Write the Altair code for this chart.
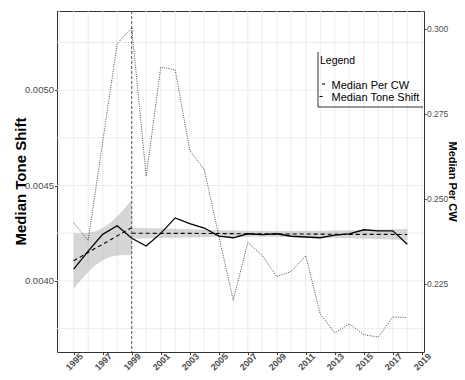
import altair as alt
import pandas as pd

# ---- data ----
years = list(range(1995, 2019))
tone_shift = [0.004062, 0.004156, 0.004244, 0.004289, 0.004223, 0.004183,
              0.004249, 0.004330, 0.004300, 0.004277, 0.004235, 0.004226,
              0.004247, 0.004242, 0.004247, 0.004234, 0.004230, 0.004226,
              0.004240, 0.004246, 0.004268, 0.004262, 0.004262, 0.004192]
per_cw = [0.2429, 0.2377, 0.2667, 0.2956, 0.3003, 0.2566, 0.2887, 0.2879,
          0.2642, 0.2586, 0.2392, 0.2201, 0.2371, 0.2333, 0.2271, 0.2286,
          0.2332, 0.2160, 0.2105, 0.2132, 0.2100, 0.2093, 0.2152, 0.2150]

# fitted trend (before / after 1999) with confidence band
fit_seg = ["pre"] * 9 + ["post"] * 11
fit_years = [1995, 1995.5, 1996, 1996.5, 1997, 1997.5, 1998, 1998.5, 1999,
             1999, 2001, 2003, 2005, 2007, 2008.5, 2010, 2012, 2014, 2016, 2018]
fit_mid = [0.004105, 0.004127, 0.004149, 0.004171, 0.004192, 0.004214, 0.004236, 0.004258, 0.004279,
           0.004250, 0.004249, 0.004249, 0.004248, 0.004247, 0.004246, 0.004246, 0.004245, 0.004244, 0.004244, 0.004243]
fit_lo = [0.003960, 0.004005, 0.004046, 0.004082, 0.004108, 0.004125, 0.004133, 0.004136, 0.004134,
          0.004221, 0.004225, 0.004228, 0.004231, 0.004231, 0.004231, 0.004230, 0.004228, 0.004223, 0.004220, 0.004214]
fit_hi = [0.004250, 0.004249, 0.004252, 0.004260, 0.004276, 0.004303, 0.004339, 0.004380, 0.004424,
          0.004279, 0.004274, 0.004270, 0.004266, 0.004263, 0.004261, 0.004262, 0.004263, 0.004265, 0.004268, 0.004272]

break_year = [1999]

x_ticks = [1995, 1997, 1999, 2001, 2003, 2005, 2007, 2009, 2011, 2013, 2015, 2017, 2019]
x_grid = list(range(1994, 2020))
left_ticks = [0.0040, 0.0045, 0.0050]
left_tick_labels = ["0.0040", "0.0045", "0.0050"]
left_grid = [0.00375, 0.0040, 0.00425, 0.0045, 0.00475, 0.0050, 0.00525]
right_ticks = [0.225, 0.250, 0.275, 0.300]

legend_title = "Legend"
legend_labels = ["Median Per CW", "Median Tone Shift"]

# ---- tables ----
main_df = pd.DataFrame({"year": years, "tone": tone_shift, "cw": per_cw})
fit_df = pd.DataFrame({"year": fit_years, "mid": fit_mid, "lo": fit_lo, "hi": fit_hi, "seg": fit_seg})
ltick_df = pd.DataFrame({"v": left_ticks, "t": left_tick_labels})

FONT = "Liberation Sans, Arial, sans-serif"

x_scale = alt.Scale(domain=[1993.85, 2019.15], nice=False, zero=False)
yl_scale = alt.Scale(domain=[0.003627, 0.005415], nice=False, zero=False)
yr_scale = alt.Scale(domain=[0.2049, 0.3052], nice=False, zero=False)

x_axis = alt.Axis(values=x_ticks, format="d", labelAngle=315, labelAlign="right",
                  labelBaseline="top", labelFont=FONT, labelFontSize=9,
                  labelFontWeight="bold", labelColor="#4d4d4d", labelPadding=-3,
                  labelOffset=4.5, tickSize=2.5, tickColor="#333333", domain=False, grid=False,
                  title=None, labelOverlap=False, labelFlush=False)
yl_axis = alt.Axis(values=left_ticks, labels=False, title="Median Tone Shift",
                   titleFont=FONT, titleFontSize=15, titleFontWeight="bold",
                   titleColor="black", titleX=-32, titleY=170,
                   titleAlign="center", titleBaseline="alphabetic",
                   tickSize=2.5, tickColor="#333333", domain=False, grid=False)
yr_axis = alt.Axis(values=right_ticks, format=".3f", title="Median Per CW", orient="right",
                   titleFont=FONT, titleFontSize=11, titleFontWeight="bold",
                   titleColor="black", titleX=24, titleY=170,
                   titleAlign="center", titleBaseline="alphabetic",
                   labelFont=FONT, labelFontSize=8.5, labelColor="#4d4d4d", labelPadding=0.5,
                   tickSize=2, tickColor="#333333", domain=False, grid=False)

X = lambda f: alt.X(f, scale=x_scale, axis=x_axis)
YL = lambda f: alt.Y(f, scale=yl_scale, axis=yl_axis)

vgrid = alt.Chart(pd.DataFrame({"g": x_grid})).mark_rule(color="#ebebeb", strokeWidth=0.9).encode(
    x=X("g:Q"))
hgrid = alt.Chart(pd.DataFrame({"g": left_grid})).mark_rule(color="#ebebeb", strokeWidth=0.9).encode(
    y=YL("g:Q"))

band = alt.Chart(fit_df).mark_area(color="#999999", opacity=0.4).encode(
    x=X("year:Q"), y=YL("lo:Q"), y2="hi:Q", detail="seg:N")
fit_line = alt.Chart(fit_df).mark_line(color="black", strokeWidth=1.1, strokeDash=[4, 3]).encode(
    x=X("year:Q"), y=YL("mid:Q"), detail="seg:N")
tone_line = alt.Chart(main_df).mark_line(color="black", strokeWidth=1.3).encode(
    x=X("year:Q"), y=YL("tone:Q"))
vline = alt.Chart(pd.DataFrame({"b": break_year})).mark_rule(
    color="#444444", strokeWidth=0.9, strokeDash=[3, 2]).encode(x=X("b:Q"))

left_labels = alt.Chart(ltick_df).mark_text(
    align="right", baseline="middle", font=FONT, fontSize=9.5, color="#4d4d4d", angle=0).encode(
    x=alt.value(-3), y=YL("v:Q"), text="t:N")

one = pd.DataFrame({"k": [0]})
leg_left = alt.Chart(one).mark_rule(color="black", strokeWidth=0.8).encode(
    x=alt.value(261), y=alt.value(41), y2=alt.value(96))
leg_bottom = alt.Chart(one).mark_rule(color="black", strokeWidth=0.8).encode(
    x=alt.value(261), x2=alt.value(366), y=alt.value(96))
leg_title = alt.Chart(one).mark_text(align="left", baseline="alphabetic", font=FONT,
                                      fontSize=10.5, color="black").encode(
    x=alt.value(263), y=alt.value(53), text=alt.value(legend_title))
leg_t1 = alt.Chart(one).mark_text(align="left", baseline="alphabetic", font=FONT,
                                   fontSize=11, color="black").encode(
    x=alt.value(274.5), y=alt.value(77.5), text=alt.value(legend_labels[0]))
leg_t2 = alt.Chart(one).mark_text(align="left", baseline="alphabetic", font=FONT,
                                   fontSize=11, color="black").encode(
    x=alt.value(274.5), y=alt.value(90), text=alt.value(legend_labels[1]))
leg_k1 = alt.Chart(one).mark_rule(color="black", strokeWidth=1.1).encode(
    x=alt.value(265), x2=alt.value(268), y=alt.value(73))
leg_k2 = alt.Chart(one).mark_rule(color="black", strokeWidth=1.1).encode(
    x=alt.value(262.5), x2=alt.value(265.5), y=alt.value(85.5))

left = alt.layer(vgrid, hgrid, band, fit_line, tone_line, vline, left_labels,
                 leg_left, leg_bottom, leg_title, leg_t1, leg_t2, leg_k1, leg_k2)

right = alt.Chart(main_df).mark_line(color="#222222", strokeWidth=0.8, strokeDash=[1, 1.3]).encode(
    x=X("year:Q"),
    y=alt.Y("cw:Q", scale=yr_scale, axis=yr_axis))

chart = alt.layer(left, right).resolve_scale(y="independent").properties(
    width=367, height=341,
    autosize=alt.AutoSizeParams(type="none"),
    padding={"left": 49, "top": 3, "right": 33, "bottom": 20},
    background="white",
).configure_view(stroke="#333333", strokeWidth=1)

chart.save("out.html", embed_options={"renderer": "svg", "actions": False})
